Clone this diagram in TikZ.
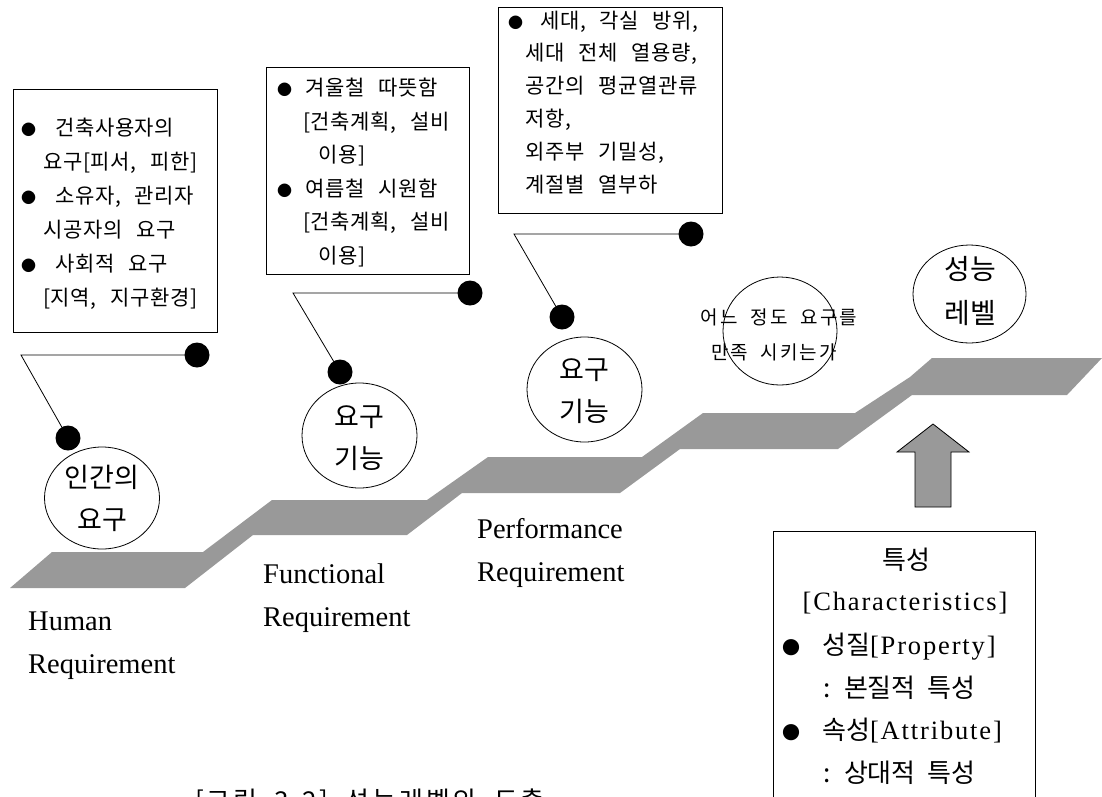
\documentclass[tikz,border=0pt]{standalone}
\usepackage{fontspec}
\setmainfont{Liberation Serif}
\newfontfamily\kr[WordSpace=2.6,LetterSpace=3]{Noto Sans CJK KR}
\newfontfamily\krc[WordSpace=2]{Noto Sans CJK KR}
\newfontfamily\krs[WordSpace=2,LetterSpace=11]{Noto Sans CJK KR}
\newfontfamily\latw[LetterSpace=7]{Liberation Serif}
\usetikzlibrary{shapes.geometric}
\definecolor{stairgray}{RGB}{153,153,153}
\newcommand\bul[2]{\makebox[#1pt][l]{\fontsize{#2}{#2}\selectfont ●}}
\begin{document}
\begin{tikzpicture}[x=1pt,y=-1pt,
  box/.style={draw, line width=1pt, inner sep=0, anchor=north west},
  dot/.style={circle, fill=black, inner sep=0, minimum size=25pt},
  bubble/.style={ellipse, draw, line width=0.8pt, inner sep=0},
  txt/.style={anchor=base west, inner sep=0, font=\kr\fontsize{21}{21}\selectfont},
  ctxt/.style={anchor=base, inner sep=0, font=\krc\fontsize{27}{27}\selectfont},
  btxt/.style={anchor=base west, inner sep=0, font=\krc\fontsize{26}{26}\selectfont},
  lab/.style={anchor=base west, inner sep=0, font=\rmfamily\fontsize{28.5}{28.5}\selectfont},
  link/.style={line width=0.8pt},
  stair/.style={fill=stairgray},
  bigarrow/.style={fill=stairgray, draw=black, line width=0.8pt},
]
\useasboundingbox (0,0) rectangle (1102,796);

% staircase
\fill[stair] (10,588) -- (52,552) -- (203,552) -- (272,500) -- (427,500) -- (488,457)
  -- (642,457) -- (703,413) -- (855,413) -- (910,377) -- (932,358) -- (1102,358)
  -- (1067,395) -- (912,395) -- (838,449) -- (680,449) -- (620,493) -- (462,493)
  -- (407,535) -- (253,535) -- (185,588) -- cycle;

% box 1
\node[box, minimum width=204pt, minimum height=243pt] (b1) at (13,89) {};
\node[txt] (b1t1) at (21,135) {\bul{34}{15}건축사용자의};
\node[txt] (b1t2) at (43,169) {요구[피서, 피한]};
\node[txt] (b1t3) at (21,203) {\bul{34}{15}소유자, 관리자};
\node[txt] (b1t4) at (43,237) {시공자의 요구};
\node[txt] (b1t5) at (21,271) {\bul{34}{15}사회적 요구};
\node[txt] (b1t6) at (43,305) {[지역, 지구환경]};

% box 2
\node[box, minimum width=203pt, minimum height=207pt] (b2) at (266,67) {};
\node[txt] (b2t1) at (277,95) {\bul{28}{15}겨울철 따뜻함};
\node[txt] (b2t2) at (303,129) {[건축계획, 설비};
\node[txt] (b2t3) at (318,162) {이용]};
\node[txt] (b2t4) at (277,196) {\bul{28}{15}여름철 시원함};
\node[txt] (b2t5) at (303,229) {[건축계획, 설비};
\node[txt] (b2t6) at (318,263) {이용]};

% box 3
\node[box, minimum width=224pt, minimum height=206pt] (b3) at (498,7) {};
\node[txt] (b3t1) at (508,28) {\bul{32}{15}세대, 각실 방위,};
\node[txt] (b3t2) at (525,60) {세대 전체 열용량,};
\node[txt] (b3t3) at (525,93) {공간의 평균열관류};
\node[txt] (b3t4) at (525,126) {저항,};
\node[txt] (b3t5) at (525,159) {외주부 기밀성,};
\node[txt] (b3t6) at (525,192) {계절별 열부하};

% connectors with dots
\node[dot] (d1a) at (197,355) {};
\node[dot] (d1b) at (68,438) {};
\coordinate (e1) at (21,355);
\draw[link] (d1a.center) -- (e1) -- (d1b.center);
\node[dot] (d2a) at (470,293) {};
\node[dot] (d2b) at (340,372) {};
\coordinate (e2) at (293,293);
\draw[link] (d2a.center) -- (e2) -- (d2b.center);
\node[dot] (d3a) at (691,234) {};
\node[dot] (d3b) at (562,317) {};
\coordinate (e3) at (514,234);
\draw[link] (d3a.center) -- (e3) -- (d3b.center);

% bubbles
\node[bubble, minimum width=115pt, minimum height=102pt] (c1) at (102,498) {};
\node[ctxt] (c1t1) at (102,487) {인간의};
\node[ctxt] (c1t2) at (102,529) {요구};
\node[bubble, minimum width=115pt, minimum height=105pt] (c2) at (359.5,435.5) {};
\node[ctxt] (c2t1) at (359,426) {요구};
\node[ctxt] (c2t2) at (359,468) {기능};
\node[bubble, minimum width=115pt, minimum height=105pt] (c3) at (584.5,389.5) {};
\node[ctxt] (c3t1) at (584,379) {요구};
\node[ctxt] (c3t2) at (584,421) {기능};
\node[bubble, minimum width=114pt, minimum height=108pt] (c4) at (780,331) {};
\node[anchor=base, inner sep=0, font=\krs\fontsize{19}{19}\selectfont] (c4t1) at (779,324) {어느 정도 요구를};
\node[anchor=base, inner sep=0, font=\krs\fontsize{19}{19}\selectfont] (c4t2) at (774,359) {만족 시키는가};
\node[bubble, minimum width=113pt, minimum height=98pt] (c5) at (969.5,294) {};
\node[ctxt, font=\krc\fontsize{28}{28}\selectfont] (c5t1) at (970,279) {성능};
\node[ctxt, font=\krc\fontsize{28}{28}\selectfont] (c5t2) at (970,323) {레벨};

% arrow
\draw[bigarrow] (915,507) -- (915,452) -- (897,452) -- (933,424) -- (969,452)
  -- (951,452) -- (951,507) -- cycle;

% characteristics box
\node[box, minimum width=262pt, minimum height=290pt] (b4) at (773,531) {};
\node[ctxt, font=\krc\fontsize{26}{26}\selectfont] (b4t1) at (906,569) {특성};
\node[anchor=base, inner sep=0, font=\latw\fontsize{26.5}{26.5}\selectfont] (b4t2) at (905,610) {[Characteristics]};
\node[btxt] (b4t3) at (782,654) {\bul{40}{18}성질{\latw\fontsize{26.5}{26.5}\selectfont[Property]}};
\node[btxt] (b4t4) at (823,697) {: 본질적 특성};
\node[btxt] (b4t5) at (782,739) {\bul{40}{18}속성{\latw\fontsize{26.5}{26.5}\selectfont[Attribute]}};
\node[btxt] (b4t6) at (823,782) {: 상대적 특성};

% labels
\node[lab] (l1a) at (28,630) {Human};
\node[lab] (l1b) at (28,673) {Requirement};
\node[lab] (l2a) at (263,583) {Functional};
\node[lab] (l2b) at (263,626) {Requirement};
\node[lab] (l3a) at (477,538) {Performance};
\node[lab] (l3b) at (477,581) {Requirement};

% caption (cut off by the page edge, as in the source)
\node[anchor=base, inner sep=0, font=\krs\fontsize{26}{26}\selectfont] (cap) at (370,810) {[그림 3.2] 성능레벨의 도출};
\end{tikzpicture}
\end{document}
